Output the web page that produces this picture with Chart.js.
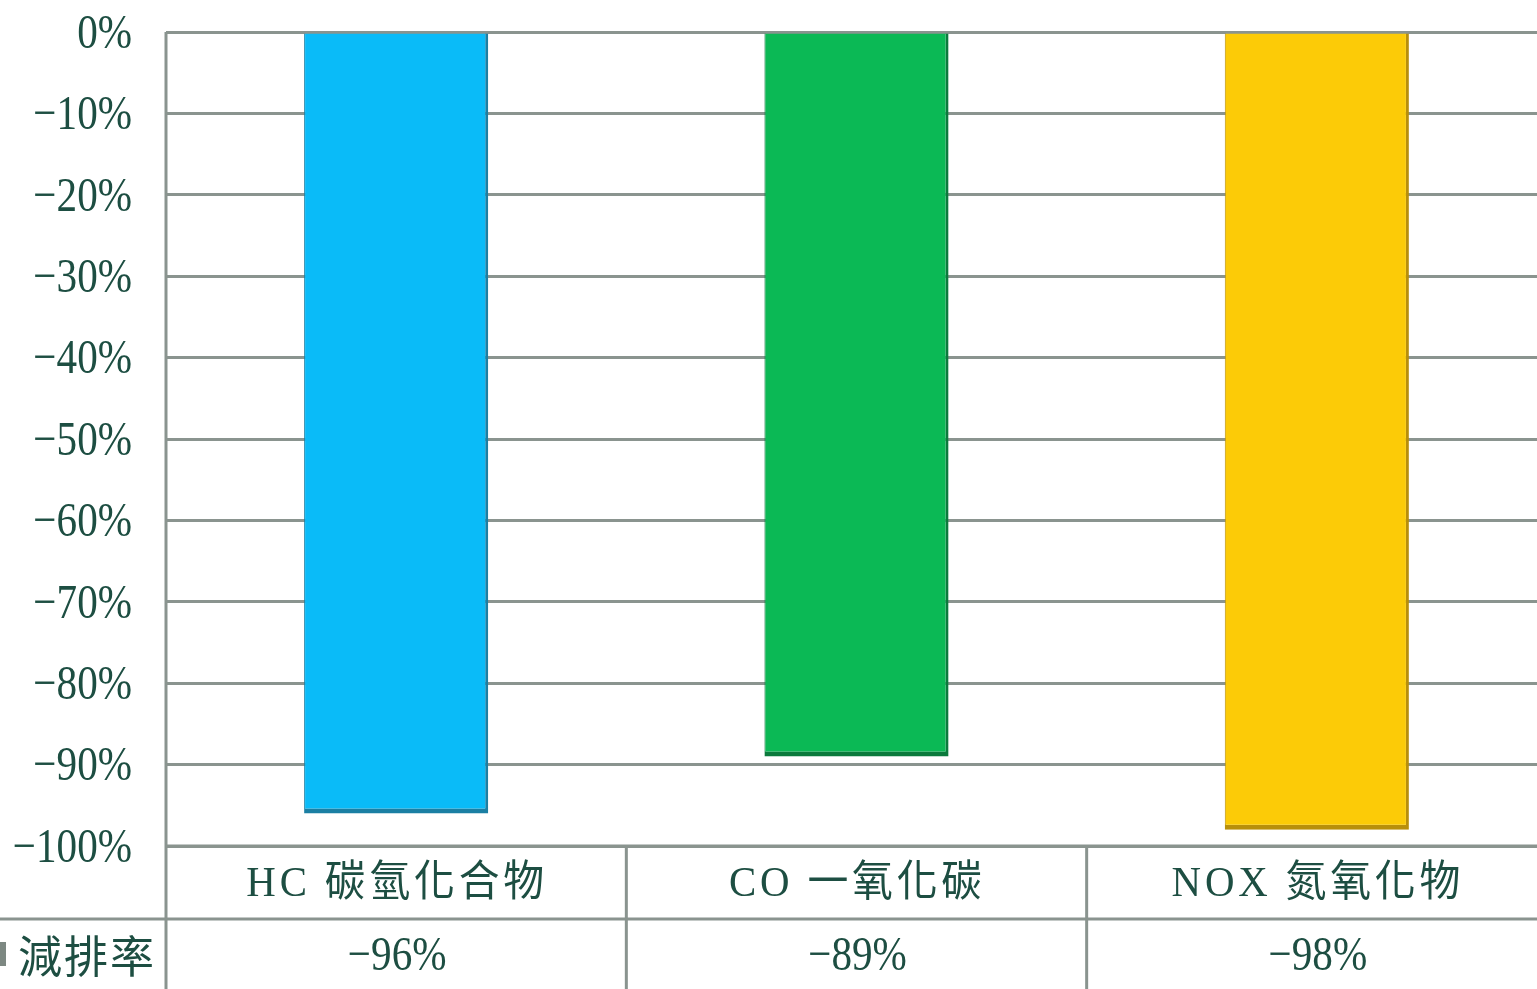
<!DOCTYPE html>
<html>
<head>
<meta charset="utf-8">
<script src="https://cdn.jsdelivr.net/npm/chart.js@4.4.1/dist/chart.umd.min.js"></script>
<style>
  html, body { margin: 0; padding: 0; background: #fff; overflow: hidden; }
  #wrap { width: 1537px; height: 989px; overflow: hidden; }
</style>
</head>
<body>
<div id="wrap"><canvas id="chart" width="1547" height="989"></canvas></div>
<script>
const categories = ["HC 碳氫化合物", "CO 一氧化碳", "NOX 氮氧化物"];
const seriesName = "減排率";
const reduction = [-96, -89, -98];
const yTicks = [0, -10, -20, -30, -40, -50, -60, -70, -80, -90, -100];

const barColors = ["#0abbf8", "#0bb955", "#fccb07"];
const barEdges = ["#1b7fa3", "#0b7a3c", "#b88f0a"];
const textColor = "#1d4e42";
const lineColor = "#8a948f";

function pct(v) {
    return (v < 0 ? "\u2212" + Math.abs(v) : String(v)) + "%";
}

// draw text squeezed horizontally (the original font is narrow)
function drawText(ctx, text, x, y, align, font, sx, spacing) {
    ctx.save();
    ctx.font = font;
    ctx.letterSpacing = (spacing || 0) + "px";
    ctx.fillStyle = textColor;
    ctx.textBaseline = "middle";
    const w = ctx.measureText(text).width * sx;
    let left = x;
    if (align === "center") left = x - w / 2;
    if (align === "right") left = x - w;
    ctx.translate(left, y);
    ctx.scale(sx, 1);
    ctx.textAlign = "left";
    ctx.fillText(text, 0, 0);
    ctx.restore();
}

const tablePlugin = {
    id: "dataTable",
    afterDraw(chart) {
        const ctx = chart.ctx;
        const area = chart.chartArea;
        const x = chart.scales.x;
        const y = chart.scales.y;
        const numFont = "49px 'Liberation Serif', 'Noto Sans CJK TC'";
        const catFont = "43px 'Liberation Serif', 'Noto Sans CJK TC'";

        // y tick labels
        yTicks.forEach(t => {
            drawText(ctx, pct(t), 132, y.getPixelForValue(t) + 3, "right", numFont, 0.84);
        });

        const row1 = area.bottom;
        const row2 = area.bottom + 73;
        const bottom = chart.height;

        ctx.save();
        ctx.strokeStyle = lineColor;
        ctx.lineWidth = 3;
        ctx.beginPath();
        // left border of plot + table
        ctx.moveTo(area.left, area.top);
        ctx.lineTo(area.left, bottom);
        // row separators
        ctx.moveTo(area.left, row1);
        ctx.lineTo(area.right, row1);
        ctx.moveTo(0, row2);
        ctx.lineTo(area.right, row2);
        // column separators
        for (let i = 1; i < categories.length; i++) {
            const bx = (x.getPixelForValue(i - 1) + x.getPixelForValue(i)) / 2;
            ctx.moveTo(bx, row1);
            ctx.lineTo(bx, bottom);
        }
        ctx.stroke();
        ctx.restore();

        categories.forEach((c, i) => {
            const cx = x.getPixelForValue(i) + 1;
            drawText(ctx, c, cx, (row1 + row2) / 2 + 2, "center", catFont, 0.95, 4);
            drawText(ctx, pct(reduction[i]), cx, (row2 + bottom) / 2 + 3, "center", numFont, 0.84);
        });

        // legend key and series name
        ctx.save();
        ctx.fillStyle = "#7d8882";
        ctx.fillRect(0, 942, 6, 24);
        ctx.restore();
        drawText(ctx, seriesName, 18, (row2 + bottom) / 2 + 2, "left", "44px 'Noto Sans CJK TC'", 1, 2);
    }
};

new Chart(document.getElementById("chart"), {
    type: "bar",
    data: {
        labels: categories,
        datasets: [{
            label: seriesName,
            data: reduction,
            backgroundColor: barColors,
            borderColor: barEdges,
            borderWidth: { top: 0, left: 1, right: 3, bottom: 5 },
            borderSkipped: false,
            barPercentage: 0.4,
            categoryPercentage: 1.0
        }]
    },
    options: {
        responsive: false,
        animation: false,
        layout: { padding: { top: 32, left: 166, right: 0, bottom: 143 } },
        plugins: {
            legend: { display: false },
            tooltip: { enabled: false }
        },
        scales: {
            x: { display: false },
            y: {
                min: -100,
                max: 0,
                ticks: { display: false, stepSize: 10 },
                border: { display: false },
                grid: { color: lineColor, lineWidth: 3, drawTicks: false }
            }
        }
    },
    plugins: [tablePlugin]
});
</script>
</body>
</html>
